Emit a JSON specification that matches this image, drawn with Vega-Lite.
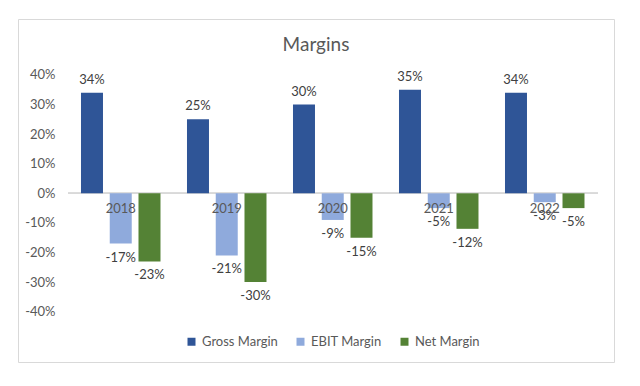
{
  "$schema": "https://vega.github.io/schema/vega-lite/v6.json",
  "width": 596,
  "height": 343,
  "autosize": {"type": "none"},
  "padding": {"left": 18, "top": 19, "right": 26, "bottom": 24},
  "background": "white",
  "config": {
    "font": "Lato",
    "view": {"stroke": "#d9d9d9", "strokeWidth": 1},
    "locale": {
      "number": {
        "decimal": ".",
        "thousands": ",",
        "grouping": [3],
        "currency": ["$", ""],
        "minus": "-"
      }
    }
  },
  "title": {
    "text": "Margins",
    "fontSize": 19,
    "fontWeight": "normal",
    "color": "#595959",
    "anchor": "middle",
    "frame": "group",
    "offset": -36
  },
  "data": {
    "values": [
      {"year": "2018", "metric": "Gross Margin", "value": 0.34},
      {"year": "2018", "metric": "EBIT Margin", "value": -0.17},
      {"year": "2018", "metric": "Net Margin", "value": -0.23},
      {"year": "2019", "metric": "Gross Margin", "value": 0.25},
      {"year": "2019", "metric": "EBIT Margin", "value": -0.21},
      {"year": "2019", "metric": "Net Margin", "value": -0.30},
      {"year": "2020", "metric": "Gross Margin", "value": 0.30},
      {"year": "2020", "metric": "EBIT Margin", "value": -0.09},
      {"year": "2020", "metric": "Net Margin", "value": -0.15},
      {"year": "2021", "metric": "Gross Margin", "value": 0.35},
      {"year": "2021", "metric": "EBIT Margin", "value": -0.05},
      {"year": "2021", "metric": "Net Margin", "value": -0.12},
      {"year": "2022", "metric": "Gross Margin", "value": 0.34},
      {"year": "2022", "metric": "EBIT Margin", "value": -0.03},
      {"year": "2022", "metric": "Net Margin", "value": -0.05}
    ]
  },
  "encoding": {
    "x": {
      "field": "year",
      "type": "nominal",
      "scale": {"paddingInner": 0.25, "paddingOuter": 0.4363, "align": 0.681},
      "axis": {
        "title": null,
        "orient": "bottom",
        "offset": -169,
        "zindex": 1,
        "domain": false,
        "ticks": false,
        "tickSize": 0,
        "labelPadding": 9,
        "labelAngle": 0,
        "labelFontSize": 13,
        "labelColor": "#595959",
        "labelFont": "Lato"
      }
    },
    "xOffset": {
      "field": "metric",
      "type": "nominal",
      "sort": ["Gross Margin", "EBIT Margin", "Net Margin"],
      "scale": {"paddingInner": 0.235, "paddingOuter": 0}
    },
    "y": {
      "field": "value",
      "type": "quantitative",
      "scale": {"domain": [-0.570, 0.589], "nice": false, "zero": false},
      "axis": {
        "title": null,
        "values": [-0.4, -0.3, -0.2, -0.1, 0, 0.1, 0.2, 0.3, 0.4],
        "format": ".0%",
        "grid": false,
        "domain": false,
        "ticks": false,
        "tickSize": 0,
        "offset": -39,
        "labelPadding": 2,
        "labelFontSize": 13,
        "labelColor": "#595959",
        "labelFont": "Lato"
      }
    }
  },
  "layer": [
    {
      "mark": {"type": "rule", "color": "#d9d9d9", "strokeWidth": 1},
      "encoding": {
        "x": {"datum": "2018", "bandPosition": -0.1635},
        "x2": {"datum": "2022", "bandPosition": 1.17},
        "y": {"datum": 0},
        "xOffset": null
      }
    },
    {
      "mark": {"type": "bar"},
      "encoding": {
        "color": {
          "field": "metric",
          "type": "nominal",
          "scale": {
            "domain": ["Gross Margin", "EBIT Margin", "Net Margin"],
            "range": ["#2F5597", "#8FAADC", "#548235"]
          },
          "legend": {
            "orient": "none",
            "legendX": 167,
            "legendY": 316,
            "direction": "horizontal",
            "title": null,
            "symbolType": "square",
            "symbolSize": 64,
            "symbolStrokeWidth": 0,
            "labelFontSize": 13,
            "labelColor": "#595959",
            "labelFont": "Lato",
            "labelOffset": 4,
            "columnPadding": 16
          }
        }
      }
    },
    {
      "transform": [{"filter": "datum.value >= 0"}],
      "mark": {"type": "text", "baseline": "bottom", "dy": -6, "fontSize": 13, "color": "#404040", "font": "Lato"},
      "encoding": {
        "text": {"field": "value", "type": "quantitative", "format": ".0%"}
      }
    },
    {
      "transform": [{"filter": "datum.value < 0"}],
      "mark": {"type": "text", "baseline": "top", "dy": 8, "fontSize": 13, "color": "#404040", "font": "Lato"},
      "encoding": {
        "text": {"field": "value", "type": "quantitative", "format": ".0%"}
      }
    }
  ]
}
